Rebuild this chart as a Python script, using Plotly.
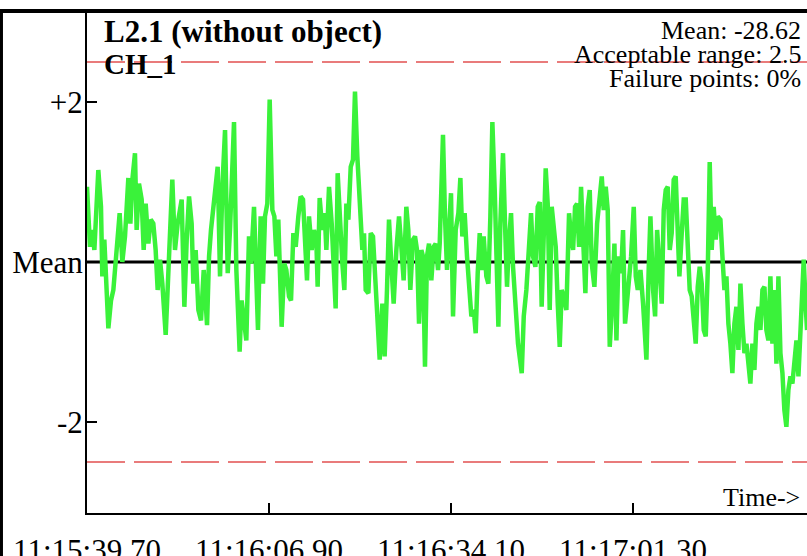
import plotly.graph_objects as go

# ---- data ----
time_s = [
    0.00, 0.45, 0.80, 1.10, 1.69, 2.09, 2.29, 2.59, 3.19, 3.59, 3.94, 4.28, 4.58, 4.88, 5.28, 5.68,
    6.18, 6.48, 6.78, 7.17, 7.42, 7.77, 8.17, 8.47, 8.77, 9.17, 9.52, 9.91, 10.26, 10.56, 10.91,
    11.26, 11.76, 12.16, 12.75, 13.15, 13.55, 14.15, 14.55, 14.90, 15.25, 15.64, 15.89, 16.24,
    16.64, 17.04, 17.44, 17.94, 18.24, 18.53, 18.88, 19.23, 19.53, 19.88, 20.23, 20.63, 21.03,
    21.37, 21.97, 22.32, 22.81, 23.11, 23.46, 23.81, 24.21, 24.51, 24.96, 25.31, 25.55, 25.95,
    26.30, 26.60, 26.95, 27.30, 27.70, 28.00, 28.30, 28.59, 28.79, 29.09, 29.49, 29.79, 30.19,
    30.49, 30.84, 31.19, 31.58, 31.93, 32.28, 32.58, 32.88, 33.18, 33.58, 33.93, 34.27, 34.47,
    34.77, 35.17, 35.52, 35.77, 36.17, 36.57, 36.91, 37.16, 37.46, 37.81, 38.16, 38.46, 38.76,
    39.06, 39.41, 39.75, 40.05, 40.40, 40.75, 41.15, 41.40, 41.65, 42.05, 42.40, 42.74, 43.14,
    43.49, 43.74, 44.14, 44.48, 44.83, 45.13, 45.48, 45.83, 46.23, 46.63, 46.98, 47.32, 47.72,
    48.02, 48.32, 48.72, 49.02, 49.32, 49.62, 49.97, 50.21, 50.51, 50.81, 51.11, 51.46, 51.81,
    52.11, 52.46, 52.71, 52.90, 53.20, 53.50, 53.80, 54.10, 54.40, 54.70, 55.10, 55.50, 55.80,
    56.09, 56.44, 56.79, 57.09, 57.44, 57.79, 58.09, 58.39, 58.69, 58.98, 59.28, 59.68, 59.98,
    60.28, 60.58, 60.93, 61.18, 61.48, 61.77, 62.17, 62.47, 62.77, 63.07, 63.37, 63.67, 64.07,
    64.41, 64.97, 65.27, 65.66, 65.96, 66.36, 66.66, 67.01, 67.36, 67.66, 67.95, 68.25, 68.55,
    68.85, 69.15, 69.45, 69.75, 70.05, 70.35, 70.65, 70.94, 71.24, 71.64, 72.04, 72.34, 72.64,
    72.94, 73.24, 73.54, 73.83, 74.13, 74.48, 74.83, 75.13, 75.43, 75.83, 76.23, 76.63, 76.93,
    77.22, 77.52, 77.82, 78.12, 78.47, 78.82, 79.12, 79.42, 79.82, 80.11, 80.41, 80.71, 81.01,
    81.31, 81.71, 82.01, 82.31, 82.71, 83.10, 83.60, 83.95, 84.20, 84.60, 84.90, 85.20, 85.59,
    85.89, 86.19, 86.49, 86.79, 87.09, 87.38, 87.68, 87.98, 88.28, 88.53, 88.88, 89.18, 89.48,
    89.78, 90.07, 90.37, 90.67, 90.97, 91.27, 91.57, 91.87, 92.17, 92.47, 92.77, 93.06, 93.36,
    93.66, 93.96, 94.26, 94.66, 94.96, 95.26, 95.56, 95.85, 96.15, 96.45, 96.75, 97.05, 97.35,
    97.65, 97.95, 98.25, 98.55, 98.84, 99.14, 99.44, 99.74, 100.04, 100.34, 100.64, 100.94,
    101.24, 101.53, 101.83, 102.13, 102.43, 102.73, 103.03, 103.33, 103.63, 103.93, 104.22,
    104.52, 104.82, 105.12, 105.42, 105.72, 106.02, 106.32, 106.62, 106.92, 107.11, 107.41, 107.61,
]

deviation = [
    0.94, 0.19, 0.40, 0.15, 1.15, 0.69, -0.18, 0.28, -0.83, -0.48, -0.35, 0.07, 0.44, 0.61, 0.00, 0.32,
    1.05, 0.48, 1.03, 1.36, 0.40, 0.98, 0.78, 0.15, 0.73, 0.23, 0.53, 0.48, 0.15, -0.35, 0.03,
    -0.27, -0.91, -0.02, 1.03, 0.15, 0.48, 0.78, -0.56, 0.28, 0.82, 0.48, -0.27, 0.15,
    -0.60, -0.73, -0.10, -0.79, 0.07, 0.40, 0.69, 0.90, 1.19, -0.18, 0.94, 1.65, -0.14,
    0.40, 1.75, -0.10, -1.12, -0.48, -0.77, -0.98, 0.32, -0.02, 0.69, -0.18, -0.85, 0.57,
    -0.27, 0.57, 0.73, 2.03, 0.65, 0.57, 0.07, 0.53, -0.18, -0.81, -0.02, -0.10, -0.43,
    -0.48, 0.36, 0.19, 0.57, 0.82, 0.78, 0.23, -0.23, 0.57, 0.15, 0.40, 0.28, -0.31,
    0.80, 0.40, 0.61, 0.15, 0.94, 0.48, -0.02, -0.58, 1.11, 0.40, -0.02, -0.35, 0.73,
    0.53, 1.19, 1.28, 2.13, 1.32, 0.69, 0.15, 0.36, -0.35, -0.39, 0.36, 0.32, -0.35,
    -0.85, -1.22, -0.52, -1.18, -0.35, 0.53, -0.02, -0.52, 0.15, 0.57, 0.19, -0.23, 0.69,
    0.40, -0.35, 0.28, 0.32, 0.15, -0.77, 0.15, 0.07, -1.31, 0.07, 0.23, -0.23, 0.19,
    0.23, -0.10, 0.23, 0.90, 1.59, 0.57, -0.10, 0.40, 0.86, -0.68, 0.40, 0.61, 1.05,
    0.32, 0.61, 0.07, -0.35, -0.68, -0.60, -0.89, -0.14, 0.36, -0.10, 0.32, -0.18, -0.27,
    0.57, 1.75, 0.90, -0.02, -0.81, 0.48, 1.36, 0.48, -0.31, 0.28, 0.61, -0.06, -0.56,
    -1.02, -1.39, -0.68, -0.35, 0.03, 0.61, 0.07, -0.06, 0.69, 0.75, -0.56, 0.40, 1.17,
    0.73, -0.60, 0.69, 0.44, 0.19, -0.52, -1.06, -0.35, -0.43, -0.60, 0.61, 0.32, 0.15,
    0.69, 0.73, 0.19, 0.94, 0.32, -0.39, 0.69, 0.90, -0.02, -0.31, 0.48, 0.90, 1.07,
    0.65, 0.94, 0.65, -1.06, -0.52, 0.23, -0.98, 0.07, -0.14, 0.40, -0.77, -0.48, -0.27,
    0.07, 0.69, -0.18, -0.35, -0.10, -0.52, -1.22, -0.06, 0.57, -0.35, -0.68, 0.40, -0.10,
    -0.52, 0.65, 0.90, 0.94, 0.15, 0.36, 1.03, 1.07, 0.40, -0.18, 0.36, 0.78, 0.78,
    0.28, -0.35, -0.43, -0.77, -1.02, -0.31, -0.06, -0.27, -0.85, -0.93, -0.10, 1.25, 0.15,
    0.69, 0.28, 0.57, 0.53, 0.07, -0.35, -0.18, -0.77, -1.02, -1.39, -0.77, -0.56, -1.10,
    -0.27, -0.77, -1.14, -1.02, -1.31, -1.52, -1.02, -1.35, -0.77, -0.56, -0.85, -0.35,
    -0.31, -0.85, -0.98, -0.18, -1.02, -0.35, -1.27, -0.18, -1.14, -1.39, -1.85,
    -2.06, -1.60, -1.43, -1.52, -1.18, -0.98, -1.43, -0.77, -0.06, 0.03, -0.56, -0.85,
]

tick_times = [0.0, 27.2, 54.4, 81.6]
tick_labels = ["11:15:39.70", "11:16:06.90", "11:16:34.10", "11:17:01.30"]
y_tick_vals = [2, 0, -2]
y_tick_labels = ["+2", "Mean", "-2"]
acceptable_range = 2.5
title_text = "L2.1 (without object)"
channel_text = "CH_1"
stats_lines = ["Mean: -28.62", "Acceptable range: 2.5", "Failure points: 0%"]

SERIF = "Liberation Serif"

fig = go.Figure()

fig.add_trace(go.Scatter(
    x=time_s, y=deviation, mode="lines",
    line=dict(color="rgb(58,242,58)", width=4.5),
    showlegend=False, hoverinfo="skip",
))

shapes = [
    # mean line
    dict(type="line", xref="paper", yref="y", x0=0, x1=1, y0=0, y1=0,
         line=dict(color="black", width=3), layer="below"),
    # acceptable range limits
    dict(type="line", xref="paper", yref="y", x0=0, x1=1, y0=acceptable_range, y1=acceptable_range,
         line=dict(color="rgb(226,80,80)", width=1.5, dash="38px,9px")),
    dict(type="line", xref="paper", yref="y", x0=0, x1=1, y0=-acceptable_range, y1=-acceptable_range,
         line=dict(color="rgb(226,80,80)", width=1.5, dash="38px,9px")),
    # outer frame pieces (top bar and left bar)
    dict(type="rect", xref="paper", yref="paper", x0=-0.125, x1=1.01, y0=1.0, y1=1.008,
         fillcolor="black", line=dict(width=0)),
    dict(type="rect", xref="paper", yref="paper", x0=-0.125, x1=-0.1167, y0=-0.1, y1=1.008,
         fillcolor="black", line=dict(width=0)),
]

annotations = [
    dict(text="<b>%s</b>" % title_text, xref="paper", yref="paper", x=0.021, y=0.964,
         xanchor="left", yanchor="middle", showarrow=False,
         font=dict(family=SERIF, size=31, color="black")),
    dict(text="<b>%s</b>" % channel_text, xref="paper", yref="paper", x=0.021, y=0.898,
         xanchor="left", yanchor="middle", showarrow=False,
         font=dict(family=SERIF, size=29, color="black")),
    dict(text="Time->", xref="paper", yref="paper", x=0.993, y=0.032,
         xanchor="right", yanchor="middle", showarrow=False,
         font=dict(family=SERIF, size=26, color="black")),
]
for txt, yy in zip(stats_lines, [0.966, 0.917, 0.869]):
    annotations.append(dict(text=txt, xref="paper", yref="paper", x=0.995, y=yy,
                            xanchor="right", yanchor="middle", showarrow=False,
                            font=dict(family=SERIF, size=26, color="black")))

fig.update_layout(
    width=807, height=556,
    margin=dict(l=87, r=0, t=13, b=43, autoexpand=False),
    paper_bgcolor="white", plot_bgcolor="white",
    shapes=shapes, annotations=annotations,
    showlegend=False,
    xaxis=dict(range=[0, 107.6], showgrid=False, zeroline=False, automargin=False,
               showline=True, linecolor="black", linewidth=2,
               ticks="inside", ticklen=10, tickwidth=2, tickcolor="black",
               tickvals=tick_times, ticktext=tick_labels,
               tickfont=dict(family=SERIF, size=31, color="black"),
               ticklabelstandoff=9),
    yaxis=dict(range=[-3.1375, 3.1125], showgrid=False, zeroline=False, automargin=False,
               showline=True, linecolor="black", linewidth=2,
               ticks="inside", ticklen=10, tickwidth=2, tickcolor="black",
               tickvals=y_tick_vals, ticktext=y_tick_labels,
               tickfont=dict(family=SERIF, size=31, color="black"),
               ticklabelstandoff=-4),
)

fig.write_html(
    "out.html",
    config={"displayModeBar": False},
    post_script="document.body.style.margin='0';document.documentElement.style.overflow='hidden';",
)
